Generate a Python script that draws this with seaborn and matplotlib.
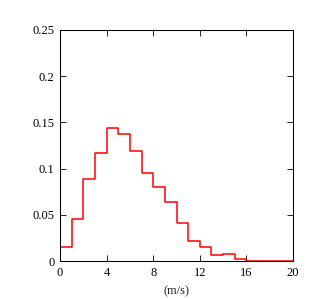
import numpy as np
import pandas as pd
import matplotlib
matplotlib.use("Agg")
import matplotlib.pyplot as plt
import seaborn as sns

bin_left = [0, 1, 2, 3, 4, 5, 6, 7, 8, 9, 10, 11, 12, 13, 14, 15, 16, 17, 18, 19]
frac = [0.0155, 0.045, 0.0887, 0.1165, 0.1443, 0.1374, 0.1187, 0.0949, 0.080, 0.0642,
        0.0415, 0.0216, 0.0155, 0.0065, 0.008, 0.002, 0.0, 0.0, 0.0, 0.0]
xticks = [0, 4, 8, 12, 16, 20]
yticks = [0, 0.05, 0.1, 0.15, 0.2, 0.25]
ytick_labels = ["0", "0.05", "0.1", "0.15", "0.2", "0.25"]

sns.set_style("ticks")
plt.rcParams["font.family"] = ["Liberation Serif", "DejaVu Serif"]

fig = plt.figure(figsize=(3.21, 2.99), dpi=100)
ax = fig.add_axes([60/321, 38/299, 233/321, 231/299])

# step outline: repeat last value so the final bin's edge is drawn
edges = list(bin_left) + [bin_left[-1] + 1]
vals = list(frac) + [frac[-1]]
df = pd.DataFrame({"speed": edges, "frac": vals})
sns.lineplot(data=df, x="speed", y="frac", drawstyle="steps-post",
             color="#ff0000", linewidth=1.1, ax=ax)
ax.plot([bin_left[0], bin_left[0]], [0, frac[0]], color="#ff0000", linewidth=1.1)

ax.set_xlim(0, 20)
ax.set_ylim(0, 0.25)
ax.set_xticks(xticks)
ax.set_xticklabels([str(t) for t in xticks])
ax.set_yticks(yticks)
ax.set_yticklabels(ytick_labels)
ax.set_xlabel("(m/s)", fontsize=9, labelpad=5)
ax.set_ylabel("")
ax.tick_params(direction="in", length=4, width=0.6, labelsize=9, top=True, right=True,
               colors="black", pad=4)
for s in ax.spines.values():
    s.set_visible(True)
    s.set_linewidth(0.75)
    s.set_color("black")

fig.savefig("out.png", dpi=100)
